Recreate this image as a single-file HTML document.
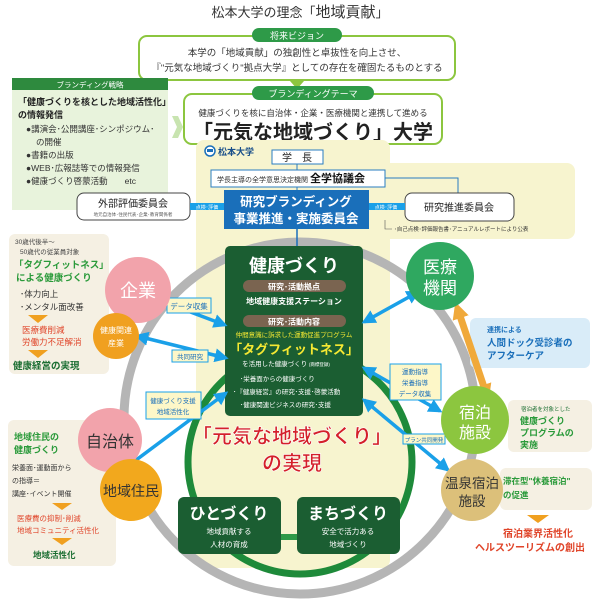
<!DOCTYPE html>
<html><head><meta charset="utf-8"><style>
html,body{margin:0;padding:0;background:#fff}
svg{display:block;font-family:"Liberation Sans","Noto Sans CJK JP",sans-serif}
</style></head><body>
<svg width="600" height="602" viewBox="0 0 600 602" xmlns="http://www.w3.org/2000/svg">
<defs>
<marker id="ab" viewBox="0 0 10 10" refX="8" refY="5" markerWidth="4" markerHeight="4" orient="auto-start-reverse"><path d="M0,0L10,5L0,10z" fill="#1aa0e8"/></marker>
<marker id="ao" viewBox="0 0 10 10" refX="5" refY="5" markerWidth="2.4" markerHeight="2.4" orient="auto-start-reverse"><path d="M0,0L10,5L0,10z" fill="#f0a93a"/></marker>
</defs>
<rect width="600" height="602" fill="#fff"/>
<text x="300" y="17" font-size="13" text-anchor="middle" fill="#333">松本大学の理念「<tspan font-size="15">地域貢献</tspan>」</text>
<rect x="139" y="36" width="316" height="44" rx="8" fill="#fff" stroke="#8cc63f" stroke-width="2"/>
<rect x="252" y="28" width="90" height="14" rx="7" fill="#2e9a48"/>
<text x="297" y="39" font-size="9" fill="#fff" text-anchor="middle">将来ビジョン</text>
<text x="297" y="56" font-size="9.5" text-anchor="middle" fill="#333">本学の「地域貢献」の独創性と卓抜性を向上させ、</text>
<text x="297" y="71" font-size="9.5" text-anchor="middle" fill="#333">『"元気な地域づくり"拠点大学』としての存在を確固たるものとする</text>
<path d="M290,81L304,81L297,89z" fill="#8cc63f"/>
<rect x="184" y="94" width="258" height="50" rx="8" fill="#fff" stroke="#8cc63f" stroke-width="2"/>
<rect x="252" y="86" width="122" height="14" rx="7" fill="#2e9a48"/>
<text x="313" y="97" font-size="9" fill="#fff" text-anchor="middle">ブランディングテーマ</text>
<text x="313" y="116" font-size="8.5" text-anchor="middle" fill="#333">健康づくりを核に自治体・企業・医療機関と連携して進める</text>
<text x="313" y="139" font-size="20" font-weight="bold" text-anchor="middle" fill="#222">「元気な地域づくり」大学</text>
<rect x="12" y="78" width="156" height="132" fill="#e8f3dc"/>
<rect x="12" y="78" width="156" height="12" fill="#2e8a3e"/>
<text x="90" y="87.5" font-size="7.5" fill="#fff" text-anchor="middle">ブランディング戦略</text>
<text x="18" y="105" font-size="9" font-weight="bold" fill="#222">「健康づくりを核とした地域活性化」</text>
<text x="18" y="118" font-size="9" font-weight="bold" fill="#222">の情報発信</text>
<text x="26" y="132" font-size="8.5" fill="#333">●講演会･公開講座･シンポジウム･</text>
<text x="36" y="145" font-size="8.5" fill="#333">の開催</text>
<text x="26" y="158" font-size="8.5" fill="#333">●書籍の出版</text>
<text x="26" y="171" font-size="8.5" fill="#333">●WEB･広報誌等での情報発信</text>
<text x="26" y="184" font-size="8.5" fill="#333">●健康づくり啓蒙活動　　etc</text>
<path d="M172,116L178,116L183,127L178,138L172,138L177,127z" fill="#c8e4b0"/>
<rect x="196" y="140" width="194" height="428" rx="8" fill="#f7f4cf"/>
<rect x="380" y="163" width="195" height="76" rx="8" fill="#f7f4cf"/>
<circle cx="300" cy="418" r="176" fill="none" stroke="#b5b5b5" stroke-width="9"/>
<circle cx="300" cy="462" r="112" fill="#f7f4cf" stroke="#1e8a3a" stroke-width="7"/>
<circle cx="210" cy="151" r="5" fill="#fff" stroke="#1a6fba" stroke-width="1.5"/>
<rect x="207" y="149" width="6" height="3" fill="#1a6fba"/>
<text x="218" y="155" font-size="9" font-weight="bold" fill="#1a4f8a">松本大学</text>
<rect x="272" y="150" width="51" height="14" fill="#fff" stroke="#2a7dc0"/>
<text x="297" y="161" font-size="10" text-anchor="middle" fill="#222">学　長</text>
<line x1="297" y1="164" x2="297" y2="170" stroke="#2a7dc0"/>
<rect x="211" y="170" width="174" height="17" fill="#fff" stroke="#2a7dc0"/>
<text x="217" y="182" font-size="7" fill="#333">学長主導の全学意思決定機関 <tspan font-size="11" font-weight="bold" fill="#111">全学協議会</tspan></text>
<polyline points="385,178 458,178 458,193" fill="none" stroke="#2a7dc0"/>
<line x1="297" y1="187" x2="297" y2="190" stroke="#2a7dc0"/>
<rect x="77" y="193" width="113" height="27" rx="7" fill="#fff" stroke="#444"/>
<text x="133" y="207" font-size="10" text-anchor="middle" fill="#222">外部評価委員会</text>
<text x="133" y="216" font-size="4.5" text-anchor="middle" fill="#555">地元自治体･住民代表･企業･教育関係者</text>
<rect x="405" y="193" width="109" height="28" rx="7" fill="#fff" stroke="#444"/>
<text x="459" y="211" font-size="10" text-anchor="middle" fill="#222">研究推進委員会</text>
<rect x="190" y="203" width="34" height="7" fill="#1aa0e8"/>
<text x="207" y="209" font-size="5" fill="#fff" text-anchor="middle">点検･評価</text>
<rect x="368" y="203" width="37" height="7" fill="#1aa0e8"/>
<text x="386" y="209" font-size="5" fill="#fff" text-anchor="middle">点検･評価</text>
<rect x="224" y="190" width="145" height="39" fill="#1a6fba"/>
<text x="296" y="206" font-size="12.5" font-weight="bold" fill="#fff" text-anchor="middle">研究ブランディング</text>
<text x="296" y="223" font-size="12.5" font-weight="bold" fill="#fff" text-anchor="middle">事業推進・実施委員会</text>
<polyline points="385,220 385,229 392,229" fill="none" stroke="#555" stroke-width="0.6"/>
<text x="394" y="231" font-size="5.5" fill="#333">･自己点検･評価報告書･アニュアルレポートにより公表</text>
<line x1="297" y1="229" x2="297" y2="246" stroke="#1a6fba" stroke-width="1.5"/>
<rect x="225" y="246" width="138" height="170" rx="5" fill="#1b5e32"/>
<text x="294" y="272" font-size="18" font-weight="bold" fill="#fff" text-anchor="middle">健康づくり</text>
<rect x="243" y="280" width="103" height="12" rx="6" fill="#7a6450"/>
<text x="294" y="289.5" font-size="8" font-weight="bold" fill="#fff" text-anchor="middle">研究･活動拠点</text>
<text x="294" y="304" font-size="8" font-weight="bold" fill="#fff" text-anchor="middle">地域健康支援ステーション</text>
<rect x="243" y="315" width="103" height="12" rx="6" fill="#7a6450"/>
<text x="294" y="324.5" font-size="8" font-weight="bold" fill="#fff" text-anchor="middle">研究･活動内容</text>
<text x="294" y="337" font-size="6.5" fill="#f5e832" text-anchor="middle">仲間意識に訴求した運動促進プログラム</text>
<text x="294" y="354" font-size="13" font-weight="bold" fill="#f5e832" text-anchor="middle">「タグフィットネス」</text>
<text x="286" y="366" font-size="6.5" fill="#fff" text-anchor="middle">を活用した健康づくり <tspan font-size="4.5">(商標登録)</tspan></text>
<text x="240" y="381" font-size="6.5" fill="#fff">･栄養面からの健康づくり</text>
<text x="233" y="394" font-size="6.5" fill="#fff">･『健康経営』の研究･支援･啓蒙活動</text>
<text x="240" y="407" font-size="6.5" fill="#fff">･健康関連ビジネスの研究･支援</text>
<text x="292" y="443" font-size="20" font-weight="bold" fill="#d4202a" stroke="#fff" stroke-width="0.6" text-anchor="middle">「元気な地域づくり」</text>
<text x="292" y="470" font-size="20" font-weight="bold" fill="#d4202a" stroke="#fff" stroke-width="0.6" text-anchor="middle">の実現</text>
<rect x="270" y="534" width="40" height="6" fill="#2e9a48"/>
<rect x="178" y="497" width="103" height="57" rx="6" fill="#1b5e32"/>
<rect x="297" y="497" width="103" height="57" rx="6" fill="#1b5e32"/>
<text x="229" y="519" font-size="16" font-weight="bold" fill="#fff" text-anchor="middle">ひとづくり</text>
<text x="229" y="534" font-size="7.5" fill="#fff" text-anchor="middle">地域貢献する</text>
<text x="229" y="547" font-size="7.5" fill="#fff" text-anchor="middle">人材の育成</text>
<text x="348" y="519" font-size="16" font-weight="bold" fill="#fff" text-anchor="middle">まちづくり</text>
<text x="348" y="534" font-size="7.5" fill="#fff" text-anchor="middle">安全で活力ある</text>
<text x="348" y="547" font-size="7.5" fill="#fff" text-anchor="middle">地域づくり</text>
<rect x="9" y="234" width="100" height="140" rx="6" fill="#f5f0e3"/>
<text x="15" y="244" font-size="6.5" fill="#444">30歳代後半～</text>
<text x="20" y="254" font-size="6.5" fill="#444">50歳代の従業員対象</text>
<text x="14" y="268" font-size="9.5" font-weight="bold" fill="#2a9a3a">「タグフィットネス」</text>
<text x="16" y="281" font-size="9.5" font-weight="bold" fill="#2a9a3a">による健康づくり</text>
<text x="20" y="297" font-size="8.5" fill="#333">･体力向上</text>
<text x="20" y="310" font-size="8.5" fill="#333">･メンタル面改善</text>
<path d="M28,315L48,315L38,323z" fill="#f0a020"/>
<text x="22" y="333" font-size="8.5" fill="#e0452a">医療費削減</text>
<text x="22" y="345" font-size="8.5" fill="#e0452a">労働力不足解消</text>
<path d="M28,350L48,350L38,358z" fill="#f0a020"/>
<text x="13" y="369" font-size="9.5" font-weight="bold" fill="#1b6e32">健康経営の実現</text>
<rect x="8" y="420" width="108" height="146" rx="6" fill="#f5f0e3"/>
<text x="14" y="440" font-size="9" font-weight="bold" fill="#2a9a3a">地域住民の</text>
<text x="14" y="453" font-size="9" font-weight="bold" fill="#2a9a3a">健康づくり</text>
<text x="12" y="470" font-size="7" fill="#333">栄養面･運動面から</text>
<text x="12" y="483" font-size="7" fill="#333">の指導＝</text>
<text x="12" y="496" font-size="7" fill="#333">講座･イベント開催</text>
<path d="M52,503L72,503L62,510z" fill="#f0a020"/>
<text x="17" y="521" font-size="7.5" fill="#e0452a">医療費の抑制･削減</text>
<text x="17" y="533" font-size="7.5" fill="#e0452a">地域コミュニティ活性化</text>
<path d="M52,538L72,538L62,545z" fill="#f0a020"/>
<text x="33" y="558" font-size="8.5" font-weight="bold" fill="#1b6e32">地域活性化</text>
<rect x="470" y="318" width="120" height="50" rx="6" fill="#d9ecf8"/>
<text x="487" y="332" font-size="7" font-weight="bold" fill="#1a6fba">連携による</text>
<text x="487" y="346" font-size="9.5" font-weight="bold" fill="#1a6fba">人間ドック受診者の</text>
<text x="487" y="359" font-size="9.5" font-weight="bold" fill="#1a6fba">アフターケア</text>
<rect x="508" y="400" width="84" height="52" rx="6" fill="#f5f0e3"/>
<text x="521" y="411" font-size="5.5" fill="#1b6e32">宿泊者を対象とした</text>
<text x="520" y="424" font-size="9" font-weight="bold" fill="#2a9a3a">健康づくり</text>
<text x="520" y="436" font-size="9" font-weight="bold" fill="#2a9a3a">プログラムの</text>
<text x="520" y="448" font-size="9" font-weight="bold" fill="#2a9a3a">実施</text>
<rect x="500" y="468" width="92" height="42" rx="6" fill="#f5f0e3"/>
<text x="503" y="484" font-size="8.5" font-weight="bold" fill="#2a9a3a">滞在型"休養宿泊"</text>
<text x="503" y="498" font-size="8.5" font-weight="bold" fill="#2a9a3a">の促進</text>
<path d="M527,515L549,515L538,523z" fill="#f0a020"/>
<text x="538" y="537" font-size="10" font-weight="bold" fill="#e0452a" text-anchor="middle">宿泊業界活性化</text>
<text x="530" y="551" font-size="10" font-weight="bold" fill="#e0452a" text-anchor="middle">ヘルスツーリズムの創出</text>
<line x1="458" y1="310" x2="486" y2="393" stroke="#f0a93a" stroke-width="7" marker-start="url(#ao)" marker-end="url(#ao)"/>
<g stroke="#1aa0e8" stroke-width="3.5" fill="none">
<line x1="225" y1="325" x2="148" y2="296" marker-start="url(#ab)" marker-end="url(#ab)"/>
<line x1="226" y1="358" x2="137" y2="336" marker-start="url(#ab)" marker-end="url(#ab)"/>
<line x1="364" y1="322" x2="418" y2="292" marker-start="url(#ab)" marker-end="url(#ab)"/>
<line x1="364" y1="368" x2="440" y2="411" marker-start="url(#ab)" marker-end="url(#ab)"/>
<line x1="226" y1="393" x2="120" y2="472" marker-start="url(#ab)" marker-end="url(#ab)"/>
<line x1="364" y1="400" x2="448" y2="470" marker-start="url(#ab)" marker-end="url(#ab)"/>
</g>
<g font-size="7.5" fill="#1a6fba">
<rect x="167" y="298" width="44" height="15" fill="#fdf7c8" stroke="#1aa0e8"/>
<text x="189" y="309" text-anchor="middle">データ収集</text>
<rect x="172" y="350" width="36" height="12" fill="#fdf7c8" stroke="#1aa0e8"/>
<text x="190" y="359" font-size="6.5" text-anchor="middle">共同研究</text>
<rect x="146" y="392" width="55" height="27" fill="#fdf7c8" stroke="#1aa0e8"/>
<text x="173" y="403" font-size="6.5" text-anchor="middle">健康づくり支援</text>
<text x="173" y="414" font-size="6.5" text-anchor="middle">地域活性化</text>
<rect x="390" y="364" width="51" height="36" fill="#fdf7c8" stroke="#1aa0e8"/>
<text x="415" y="374" font-size="6.5" text-anchor="middle">運動指導</text>
<text x="415" y="385" font-size="6.5" text-anchor="middle">栄養指導</text>
<text x="415" y="396" font-size="6.5" text-anchor="middle">データ収集</text>
<rect x="403" y="434" width="42" height="10" fill="#fdf7c8" stroke="#1aa0e8"/>
<text x="424" y="442" font-size="5.5" text-anchor="middle">プラン共同開発</text>
</g>
<circle cx="138" cy="290" r="33" fill="#f2a3ab"/>
<text x="138" y="297" font-size="18" fill="#fff" text-anchor="middle">企業</text>
<circle cx="116" cy="336" r="23" fill="#f0a020"/>
<text x="116" y="333" font-size="8" fill="#fff" text-anchor="middle">健康関連</text>
<text x="116" y="346" font-size="8" fill="#fff" text-anchor="middle">産業</text>
<circle cx="440" cy="276" r="34" fill="#2fa860"/>
<text x="440" y="273" font-size="17" fill="#fff" text-anchor="middle">医療</text>
<text x="440" y="294" font-size="17" fill="#fff" text-anchor="middle">機関</text>
<circle cx="475" cy="420" r="34" fill="#8cc63f"/>
<text x="475" y="418" font-size="16" fill="#fff" text-anchor="middle">宿泊</text>
<text x="475" y="438" font-size="16" fill="#fff" text-anchor="middle">施設</text>
<circle cx="472" cy="490" r="31" fill="#dcc07a"/>
<text x="472" y="488" font-size="13.5" fill="#333" text-anchor="middle">温泉宿泊</text>
<text x="472" y="506" font-size="13.5" fill="#333" text-anchor="middle">施設</text>
<circle cx="110" cy="440" r="32" fill="#f2a3ab"/>
<text x="110" y="447" font-size="16" fill="#333" text-anchor="middle">自治体</text>
<circle cx="131" cy="490" r="31" fill="#f2a81d"/>
<text x="131" y="496" font-size="14" fill="#333" text-anchor="middle">地域住民</text>
</svg>
</body></html>
